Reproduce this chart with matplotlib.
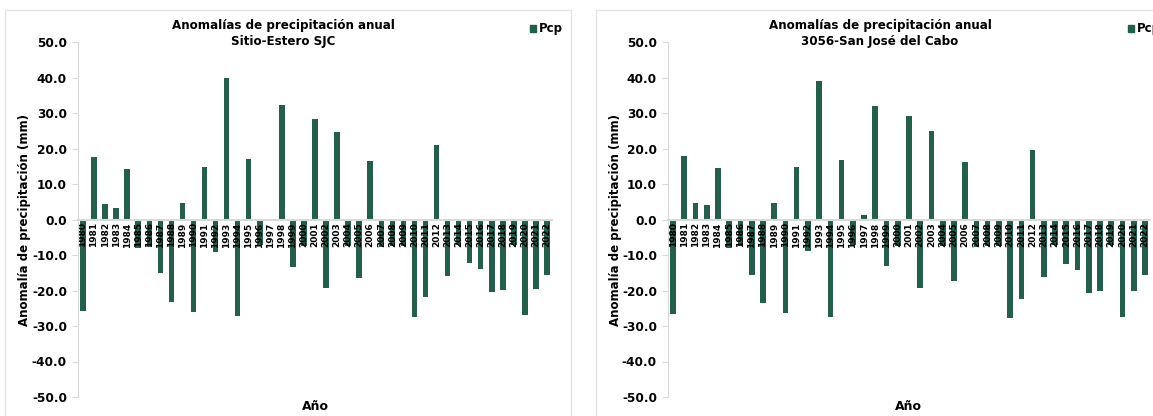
import matplotlib.pyplot as plt
from matplotlib.patches import Rectangle
import numpy as np

years = list(range(1980, 2023))

# Anomalías anuales (mm) por estación
sitio_estero = [
    -25.9, 17.6, 4.5, 3.3, 14.1, -7.9, -7.7, -15.2, -23.1, 4.7,
    -26.0, 14.7, -9.2, 40.0, -27.2, 17.1, -7.2, -0.5, 32.2, -13.3,
    -7.6, 28.3, -19.2, 24.6, -7.5, -16.5, 16.6, -7.8, -7.6, -7.4,
    -27.6, -21.7, 21.1, -15.9, -7.3, -12.3, -14.0, -20.3, -19.8, -7.1,
    -27.0, -19.6, -15.5,
]
san_jose = [
    -26.6, 18.0, 4.7, 4.2, 14.5, -7.9, -7.5, -15.5, -23.6, 4.7,
    -26.4, 14.7, -9.0, 38.9, -27.6, 16.9, -7.2, 1.2, 32.0, -13.1,
    -7.6, 29.2, -19.3, 24.8, -7.5, -17.3, 16.3, -7.8, -7.6, -7.4,
    -27.8, -22.4, 19.6, -16.2, -7.3, -12.6, -14.3, -20.6, -20.0, -7.1,
    -27.6, -20.0, -15.6,
]
titles = [
    "Anomalías de precipitación anual\nSitio-Estero SJC",
    "Anomalías de precipitación anual\n3056-San José del Cabo",
]

bar_color = "#255e4d"
grey = "#d9d9d9"
plt.rcParams["font.family"] = "DejaVu Sans"
plt.rcParams["font.weight"] = "bold"

fig = plt.figure(figsize=(11.53, 4.16), dpi=100)
W, H = 1153, 416

# marcos de cada gráfico
for x0, x1 in [(5, 571), (596, 1160)]:
    fig.patches.append(Rectangle((x0 / W, -0.05), (x1 - x0) / W, 1.05 - 10 / H,
                                 transform=fig.transFigure, fill=False,
                                 edgecolor="#e3e3e3", linewidth=1.0))

panels = [
    (sitio_estero, titles[0], 78, 552, 283, 25, 315, 530),
    (san_jose, titles[1], 668, 1150, 880, 615, 908, 1128),
]

for values, title, px0, px1, title_x, ylab_x, xlab_x, leg_x in panels:
    ax = fig.add_axes([px0 / W, 1 - 397 / H, (px1 - px0) / W, (397 - 42) / H])
    x = np.arange(len(years))
    ax.bar(x, values, width=0.5, color=bar_color, zorder=1)
    ax.set_xlim(-0.45, 42.45)
    ax.set_ylim(-50, 50)
    ax.set_yticks(np.arange(-50, 51, 10))
    ax.set_yticklabels([f"{v:.1f}" for v in np.arange(-50, 51, 10)])
    ax.set_xticks(x)
    ax.set_xticklabels([str(y) for y in years])
    ax.tick_params(axis="x", length=0, pad=2, labelrotation=90, labelsize=6.5)
    ax.tick_params(axis="y", length=4, color=grey, pad=4, labelsize=8.7)
    for s in ["top", "right"]:
        ax.spines[s].set_visible(False)
    ax.spines["bottom"].set_position(("data", 0))
    ax.spines["bottom"].set_color(grey)
    ax.spines["bottom"].set_linewidth(1.5)
    ax.spines["left"].set_color(grey)
    ax.patch.set_visible(False)

    fig.text(title_x / W, 1 - 33 / H, title, ha="center",
             va="center", fontsize=8.6, fontweight="bold", linespacing=1.3)
    fig.text(ylab_x / W, 1 - 220 / H, "Anomalía de precipitación (mm)",
             rotation=90, ha="center", va="center", fontsize=8.5,
             fontweight="bold")
    fig.text(xlab_x / W, 1 - 406 / H, "Año", ha="center", va="center",
             fontsize=9, fontweight="bold")
    fig.patches.append(Rectangle((leg_x / W, 1 - 32 / H), 6 / W, 7 / H,
                                 transform=fig.transFigure, color=bar_color))
    fig.text((leg_x + 9) / W, 1 - 28.5 / H, "Pcp", ha="left", va="center",
             fontsize=8.5, fontweight="bold")

fig.savefig("out.png", dpi=100)
